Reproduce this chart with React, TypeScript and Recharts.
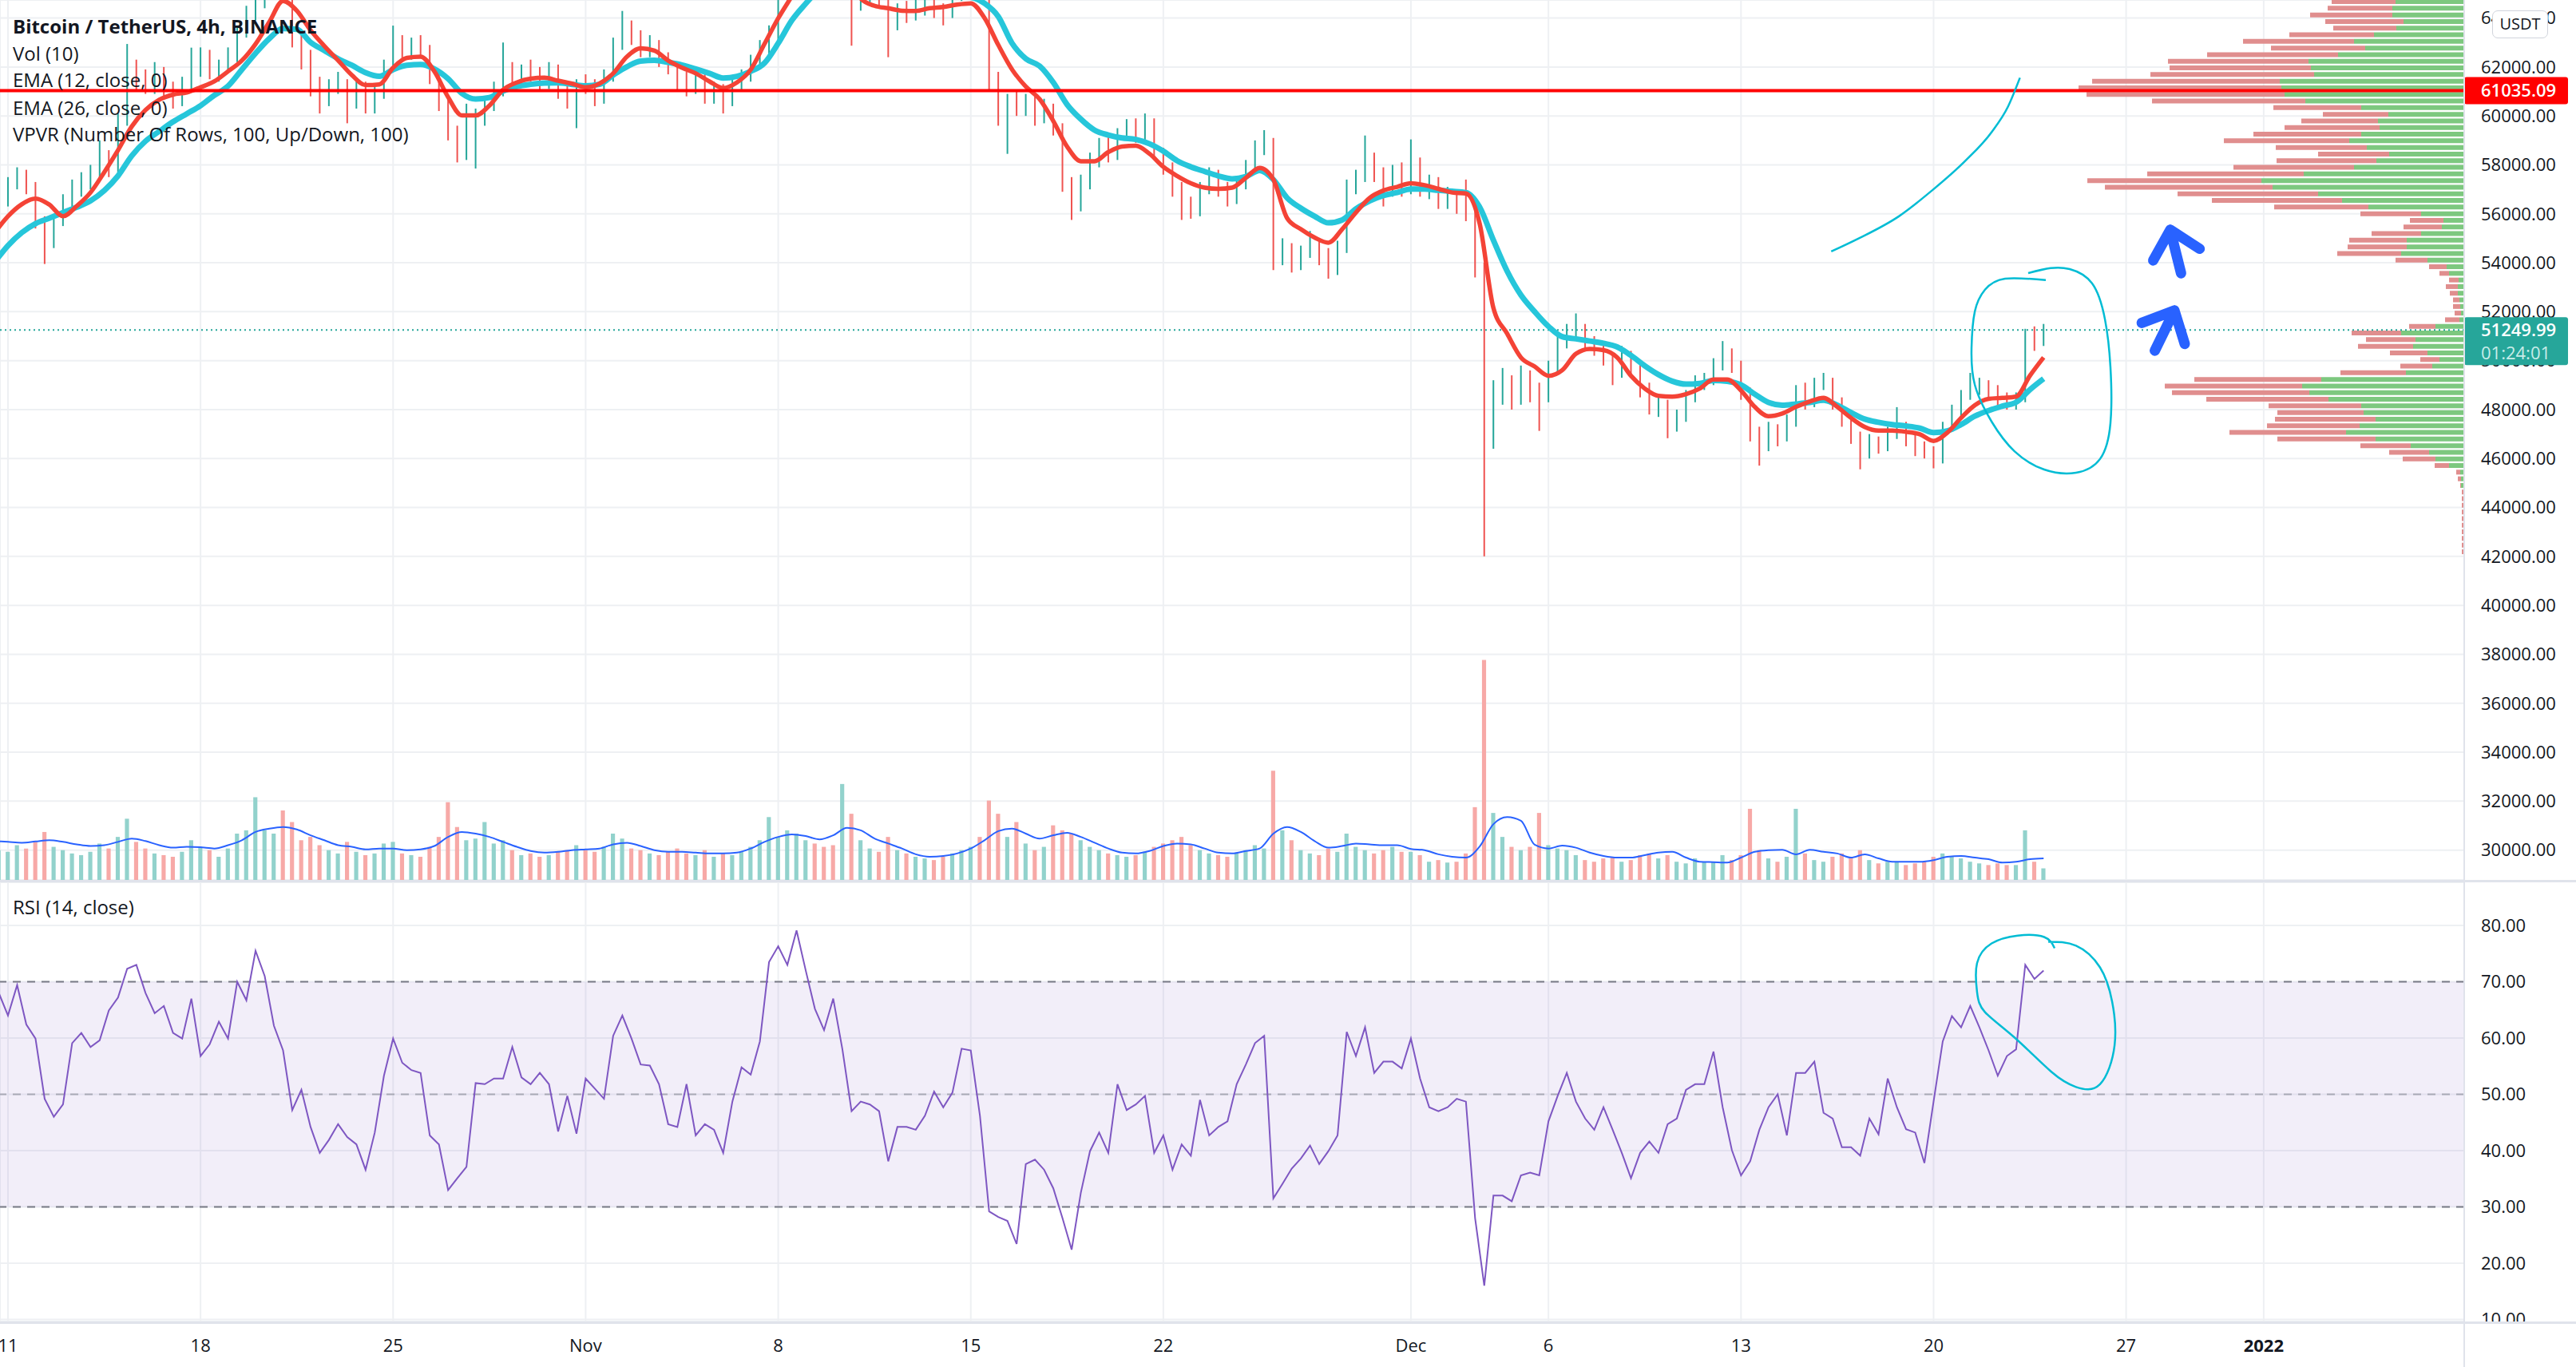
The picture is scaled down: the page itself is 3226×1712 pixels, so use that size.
import React from 'react';
import {
  ComposedChart,
  Bar,
  Line,
  Scatter,
  XAxis,
  YAxis,
  CartesianGrid,
  ReferenceLine,
  ReferenceArea,
  Cell,
} from 'recharts';

const FONT = '"Open Sans", "Noto Sans", sans-serif';
const TEXT = '#131722';
const UP = '#26a69a';
const DOWN = '#ef5350';
const VOL_UP = '#92d2cc';
const VOL_DOWN = '#f7a9a7';
const GRID = '#eef0f3';
const PEN = '#00bcd4';

const W = 3226;
const H = 1712;
const AXIS_W = 140;
const PLOT_W = W - AXIS_W;
const PRICE_H = 1102;
const RSI_TOP = 1105;
const RSI_PLOT_H = 550;
const DATE_H = H - RSI_TOP - RSI_PLOT_H;

// days counted from Oct 11 00:00
const X_DOMAIN = [-0.29, 89.29];
const PRICE_DOMAIN = [28781, 64737];
const RSI_DOMAIN = [9.64, 87.66];

// 8h candles, first one opens Oct 10 16:00
const CANDLE_START = -1 / 3;
const CANDLE_STEP = 1 / 3;

// [open, high, low, close]
const candles: [number, number, number, number][] = [
  [56200, 57100, 55900, 56600],
  [56600, 57500, 56300, 57300], [57300, 57900, 57000, 57600], [57600, 57800, 56800, 57100],
  [57100, 57300, 55400, 55600], [55600, 55900, 53950, 54900], [54900, 56000, 54600, 55700],
  [55700, 56800, 55500, 56500], [56500, 57400, 56200, 57000], [57000, 57700, 56700, 57300],
  [57300, 58000, 57000, 57600], [57600, 59000, 57400, 58300], [58300, 58600, 57500, 57900],
  [57900, 60100, 57700, 59800], [59800, 62940, 59600, 61900], [61900, 62300, 61000, 61500],
  [61500, 61900, 60900, 61200], [61200, 62200, 60900, 61800], [61800, 62000, 60800, 61100],
  [61100, 61400, 60300, 60700], [60700, 61600, 60400, 61300], [61300, 62790, 61100, 61900],
  [61900, 62800, 61600, 62300], [62300, 62700, 61500, 61800], [61800, 62300, 61400, 62000],
  [62000, 62800, 61800, 62400], [62400, 63700, 62200, 63400], [63400, 64500, 63200, 64200],
  [64200, 65000, 63900, 64600], [64600, 66200, 64400, 65800], [65800, 67000, 65500, 66200],
  [66200, 66600, 65400, 65900], [65900, 66100, 62800, 63000], [63000, 63500, 61900, 62400],
  [62400, 62700, 60800, 61200], [61200, 61600, 60100, 60700], [60700, 61500, 60400, 61100],
  [61100, 61800, 60900, 61300], [61300, 61500, 59700, 60600], [60600, 61500, 60300, 61200],
  [61200, 61400, 60100, 60400], [60400, 61200, 60100, 60900], [60900, 62300, 60700, 62000],
  [62000, 63690, 61800, 62900], [62900, 63300, 62200, 62500], [62500, 63200, 62300, 62900],
  [62900, 63300, 62400, 62700], [62700, 62900, 61300, 61600], [61600, 61800, 60200, 60500],
  [60500, 60800, 59000, 59300], [59300, 59600, 58100, 58400], [58400, 60500, 58200, 59800],
  [59800, 60300, 57850, 59900], [59900, 60800, 59600, 60500], [60500, 61400, 60200, 61000],
  [61000, 63000, 60800, 61900], [61900, 62200, 61200, 61500], [61500, 62100, 61300, 61800],
  [61800, 62300, 61400, 61700], [61700, 62000, 61000, 61300], [61300, 62200, 61100, 61900],
  [61900, 62100, 60700, 61000], [61000, 61300, 60300, 60600], [60600, 61500, 59500, 61300],
  [61300, 61700, 60900, 61200], [61200, 61500, 60400, 60700], [60700, 61900, 60500, 61600],
  [61600, 63200, 61400, 62900], [62900, 64290, 62700, 63600], [63600, 63900, 62900, 63200],
  [63200, 63500, 62400, 62700], [62700, 63300, 62400, 62900], [62900, 63100, 62000, 62300],
  [62300, 62600, 61700, 62000], [62000, 62200, 61000, 61400], [61400, 61800, 60800, 61200],
  [61200, 61900, 60900, 61500], [61500, 61700, 60500, 60800], [60800, 61400, 60500, 61100],
  [61100, 61300, 60100, 60600], [60600, 61600, 60400, 61300], [61300, 61900, 61000, 61600],
  [61600, 62500, 61400, 62200], [62200, 63100, 62000, 62800], [62800, 63700, 62500, 63300],
  [63300, 65000, 63100, 64700], [64700, 66600, 64500, 66300], [66300, 67800, 66000, 67500],
  [67500, 68200, 67100, 67800], [67800, 68500, 66800, 67100], [67100, 67500, 66500, 66900],
  [66900, 67300, 66300, 66800], [66800, 69000, 66600, 67200], [67200, 67600, 62870, 64800],
  [64800, 65300, 64300, 64900], [64900, 65600, 64600, 65200], [65200, 65500, 64400, 64800],
  [64800, 65000, 62400, 63800], [63800, 64600, 63500, 64300], [64300, 64700, 63800, 64100],
  [64100, 64800, 63900, 64400], [64400, 65000, 64100, 64600], [64600, 64900, 64000, 64300],
  [64300, 64600, 63700, 64200], [64200, 65200, 64000, 64900], [64900, 65700, 64700, 65300],
  [65300, 66400, 65100, 65700], [65700, 66000, 64600, 64900], [64900, 65100, 61000, 61500],
  [61500, 61800, 59600, 59900], [59900, 60900, 58450, 60600], [60600, 61000, 60000, 60300],
  [60300, 60900, 60000, 60500], [60500, 60800, 59600, 60000], [60000, 60700, 59700, 60200],
  [60200, 60500, 59200, 59500], [59500, 59700, 56900, 57200], [57200, 57500, 55750, 56400],
  [56400, 57600, 56100, 57300], [57300, 58500, 57000, 58200], [58200, 59100, 57900, 58900],
  [58900, 59300, 58100, 58400], [58400, 59500, 58200, 59300], [59300, 59870, 59000, 59600],
  [59600, 59900, 58900, 59200], [59200, 60100, 59000, 59700], [59700, 59900, 58300, 58500],
  [58500, 58700, 57600, 57900], [57900, 58100, 56700, 57000], [57000, 57300, 55750, 56500],
  [56500, 56700, 55800, 56100], [56100, 57300, 55900, 57000], [57000, 57900, 56800, 57600],
  [57600, 57800, 56700, 57000], [57000, 57300, 56300, 56600], [56600, 57500, 56400, 57200],
  [57200, 58200, 57000, 57900], [57900, 59000, 57700, 58700], [58700, 59420, 58400, 58900],
  [58900, 59100, 53700, 54200], [54200, 55000, 53900, 54500], [54500, 54800, 53600, 53900],
  [53900, 54700, 53700, 54400], [54400, 55300, 54200, 54800], [54800, 55000, 53900, 54300],
  [54300, 54600, 53350, 53700], [53700, 54900, 53500, 54600], [54600, 57400, 54400, 57100],
  [57100, 57800, 56800, 57500], [57500, 59200, 57300, 58300], [58300, 58500, 57300, 57600],
  [57600, 57900, 56300, 56900], [56900, 58000, 56700, 57700], [57700, 58100, 56700, 57000],
  [57000, 59040, 56800, 58000], [58000, 58300, 56700, 57000], [57000, 57600, 56600, 57300],
  [57300, 57500, 56200, 56500], [56500, 57100, 56200, 56800], [56800, 57000, 56000, 56400],
  [56400, 57400, 55700, 56000], [56000, 56300, 53400, 53800], [53800, 54000, 42000, 46700],
  [46700, 49200, 46400, 48900], [48900, 49700, 48200, 49200], [49200, 49400, 48000, 48500],
  [48500, 49800, 48200, 49400], [49400, 49600, 48300, 48700], [48700, 49100, 47130, 48600],
  [48600, 50000, 48300, 49700], [49700, 51100, 49500, 50800], [50800, 51500, 50500, 51200],
  [51200, 51930, 50900, 51300], [51300, 51500, 50400, 50700], [50700, 51000, 50200, 50600],
  [50600, 50800, 49800, 50100], [50100, 50300, 49000, 49500], [49500, 50600, 49300, 50200],
  [50200, 50400, 49300, 49600], [49600, 49900, 48500, 48800], [48800, 49100, 47800, 48000],
  [48000, 48600, 47700, 48200], [48200, 48400, 46830, 47400], [47400, 48000, 47100, 47700],
  [47700, 48800, 47500, 48500], [48500, 49400, 48300, 49100], [49100, 49500, 48800, 49200],
  [49200, 50100, 49000, 49800], [49800, 50800, 49600, 50300], [50300, 50500, 49500, 49800],
  [49800, 50000, 48400, 48700], [48700, 48900, 46700, 47000], [47000, 47300, 45710, 46600],
  [46600, 47500, 46300, 47200], [47200, 47400, 46500, 46900], [46900, 47800, 46700, 47500],
  [47500, 49000, 47300, 48700], [48700, 49100, 48000, 48300], [48300, 49300, 48100, 49000],
  [49000, 49500, 48800, 49200], [49200, 49300, 48000, 48300], [48300, 48500, 47300, 47600],
  [47600, 47800, 46600, 46900], [46900, 47100, 45560, 46200], [46200, 47000, 46000, 46700],
  [46700, 46900, 46200, 46500], [46500, 47300, 46300, 47000], [47000, 48100, 46800, 47300],
  [47300, 47500, 46500, 46800], [46800, 47000, 46100, 46400], [46400, 46700, 46000, 46300],
  [46300, 46500, 45600, 46000], [46000, 47500, 45800, 47300], [47300, 48200, 47100, 47900],
  [47900, 48800, 47700, 48600], [48600, 49500, 48400, 48900], [48900, 49300, 48600, 49000],
  [49000, 49200, 48500, 48800], [48800, 49000, 48100, 48400], [48400, 48700, 48000, 48200],
  [48200, 48700, 48000, 48400], [48400, 51300, 48300, 51000], [51000, 51400, 50400, 50900],
  [50900, 51500, 50600, 51250],
];

const volumes = [
  7200,
  6800, 8400, 7600, 9200, 11600, 8000, 7200, 6400, 6000, 6800, 8800, 7600,
  10400, 14800, 9200, 7600, 6400, 6000, 5600, 6800, 9600, 8000, 7200, 5600,
  7600, 11200, 12000, 20000, 12000, 11200, 16800, 14000, 9600, 10400, 8400, 7200,
  6400, 9200, 6800, 6000, 6400, 8800, 9200, 6400, 6000, 5600, 8000, 10400,
  18800, 12800, 9600, 10000, 14000, 8800, 9600, 7200, 6000, 6400, 5600, 6000,
  6800, 7200, 8400, 7200, 6800, 8000, 11200, 10000, 7600, 7200, 6400, 6000,
  6800, 7600, 6400, 6000, 7200, 5600, 6400, 6000, 6800, 8000, 9600, 15200,
  10400, 12000, 11200, 9600, 8800, 8000, 8400, 23200, 16000, 9600, 7600, 6800,
  10400, 7200, 6400, 5600, 5200, 4800, 5600, 6400, 7200, 8000, 10400, 19200,
  16000, 10400, 14000, 8800, 7200, 8000, 13200, 12000, 11200, 9600, 8000, 7200,
  6400, 6000, 5600, 6000, 6800, 8000, 8800, 9600, 10400, 8400, 7200, 6400,
  6000, 5600, 6400, 7200, 8400, 7600, 26400, 12000, 9600, 7200, 6400, 6000,
  7600, 6800, 11200, 8000, 7200, 6400, 7200, 8000, 6800, 6800, 6000, 4400,
  4800, 4200, 4400, 6400, 17600, 53200, 16200, 10400, 8000, 7200, 8000, 16200,
  8400, 7600, 7200, 6000, 4800, 4400, 5200, 5600, 4400, 4800, 6000, 6400,
  5200, 6000, 4400, 4000, 5200, 4400, 4400, 6000, 4800, 6000, 17200, 7200,
  5200, 4400, 5600, 17200, 6400, 4800, 4400, 5600, 6400, 5200, 7200, 4800,
  4000, 4400, 4400, 3600, 4000, 4400, 5600, 6400, 5600, 5200, 4400, 4000,
  3600, 4000, 3600, 3600, 12000, 4400, 2800,
];

const rsiValues = [
  68,
  64, 69.4, 62.4, 59.9, 49.2, 46, 48.2, 59.1, 60.9, 58.4, 59.6, 64.9,
  67.2, 72.3, 73, 68, 64.4, 65.7, 60.9, 59.9, 67, 56.8, 58.9, 62.9,
  59.9, 70, 66.7, 75.5, 71, 62.2, 57.8, 47.2, 50.8, 44.2, 39.6, 41.9,
  44.7, 42.4, 41.1, 36.6, 43.2, 53.3, 59.9, 55.6, 54.3, 53.8, 42.7, 41.1,
  33, 35.1, 37.1, 52, 51.8, 52.8, 52.8, 58.4, 53, 51.8, 53.8, 51.8,
  43.4, 49.7, 43, 52.8, 51, 49.2, 60.4, 64, 59.9, 55.3, 55.1, 51.8,
  44.7, 44.2, 51.8, 42.7, 44.7, 43.7, 39.6, 48.7, 54.8, 53.5, 59.4, 73.5,
  76.3, 73, 79.1, 72, 65.2, 61.4, 67, 58, 47, 48.7, 48.2, 47,
  38.1, 44.2, 44.2, 43.7, 46.2, 50.5, 47.7, 50.3, 58.1, 57.8, 46.2, 29.2,
  28.2, 27.5, 23.4, 37.6, 38.4, 36.6, 33.3, 28, 22.4, 32.5, 39.9, 43.2,
  39.6, 51.8, 47.2, 48.2, 49.7, 39.6, 42.7, 36.6, 41.1, 39.1, 49, 42.7,
  44.2, 45.2, 51.8, 55.3, 59.1, 60.4, 31.5, 34.1, 36.8, 38.6, 40.9, 37.6,
  39.9, 42.7, 61.1, 56.8, 61.9, 53.8, 55.8, 55.8, 54.6, 59.9, 52.8, 47.7,
  47, 47.7, 49.2, 48.7, 28, 16, 32, 32, 31, 35.6, 36.1, 35.6,
  45.2, 49.7, 53.8, 48.7, 45.7, 43.7, 47.7, 43.7, 39.6, 35.1, 39.6, 41.6,
  39.6, 44.7, 45.7, 50.8, 51.8, 51.8, 57.6, 47.7, 40.1, 35.6, 38.1, 43.7,
  47.7, 50, 42.7, 53.8, 53.8, 55.8, 46.7, 45.7, 40.6, 40.6, 39.1, 45.7,
  42.9, 52.8, 47.7, 43.8, 43.2, 37.8, 48.7, 59.4, 63.9, 61.9, 65.7, 61.9,
  57.8, 53.3, 56.8, 58, 73, 70.5, 72,
];

// EMA and volume MA readings every 12h, first one Oct 10 12:00
const LINE_START = -0.5;
const LINE_STEP = 0.5;

const ema12 = [
  55200, 55900, 56390, 56620, 56380, 55900, 56320, 56870, 57700, 58600,
  59570, 60240, 60660, 60870, 60960, 61170, 61410, 61820, 62260, 62940,
  63840, 64700, 64300, 63500, 62860, 62270, 61670, 61260, 61290, 61970,
  62370, 62420, 61820, 60770, 60020, 60020, 60420, 61070, 61370, 61520,
  61560, 61440, 61320, 61170, 61320, 61740, 62420, 62760, 62670, 62260,
  61970, 61740, 61410, 61140, 61370, 61890, 62940, 63990, 64900, 65800,
  66500, 66800, 66400, 64800, 64500, 64400, 64300, 64290, 64400, 64450,
  64550, 64600, 64000, 62900, 61900, 61200, 60690, 59790, 58750, 58150,
  58150, 58520, 58750, 58780, 58450, 57920, 57550, 57250, 57070, 57020,
  57070, 57470, 57880, 57400, 55820, 55370, 55030, 54820, 55370, 56050,
  56650, 56950, 57100, 57250, 57170, 57020, 56870, 56830, 55600, 52150,
  51100, 50130, 49760, 49380, 49610, 50280, 50480, 50430, 50130, 49380,
  48860, 48560, 48530, 48630, 48860, 49230, 49230, 48780, 48110, 47730,
  47840, 48110, 48330, 48480, 48110, 47660, 47290, 47140, 47140, 47090,
  46990, 46720, 47060, 47660, 48180, 48440, 48480, 48530, 49380, 50130,
];

const ema26 = [
  54000, 54700, 55230, 55600, 55820, 56050, 56270, 56530, 56950, 57550,
  58370, 58970, 59370, 59760, 60090, 60420, 60840, 61220, 61890, 62560,
  63160, 63570, 63540, 63010, 62670, 62340, 62070, 61770, 61620, 61890,
  62070, 62100, 61920, 61520, 60920, 60690, 60750, 61020, 61200, 61290,
  61340, 61350, 61290, 61230, 61290, 61670, 62010, 62240, 62270, 62190,
  62080, 61920, 61740, 61550, 61620, 61820, 62160, 62970, 63910, 64590,
  65200, 65700, 65800, 65600, 65300, 65100, 64950, 64900, 64880, 64880,
  64900, 64850, 64600, 64060, 62970, 62340, 62040, 61370, 60470, 59870,
  59420, 59220, 59100, 59040, 58860, 58560, 58170, 57920, 57730, 57550,
  57430, 57520, 57770, 57400, 56650, 56230, 55900, 55630, 55750, 56200,
  56530, 56750, 56870, 57010, 57010, 56960, 56920, 56870, 56270, 54920,
  53650, 52680, 52000, 51400, 50980, 50890, 50800, 50710, 50560, 50210,
  49790, 49430, 49160, 49040, 49070, 49190, 49160, 49010, 48630, 48290,
  48180, 48230, 48290, 48380, 48180, 47880, 47610, 47480, 47390, 47330,
  47240, 47060, 47130, 47390, 47730, 47960, 48140, 48300, 48810, 49260,
];

const volMa = [
  9400, 9200, 9000, 9300, 9600, 9200, 8600, 8200, 8400, 9200,
  10000, 9400, 8400, 7800, 8000, 7900, 7600, 8400, 9600, 11600,
  12400, 12800, 12200, 10800, 9600, 8400, 8000, 7400, 7600, 7600,
  7200, 7400, 8200, 10400, 11600, 11200, 10400, 9200, 8000, 7000,
  6600, 6800, 7200, 7400, 7600, 8600, 9000, 8200, 7200, 6800,
  6800, 6600, 6400, 6400, 6600, 7600, 9200, 10400, 11000, 10600,
  9800, 10800, 12600, 12000, 10000, 8800, 7600, 6200, 5600, 5800,
  6400, 7600, 9600, 11800, 12400, 11200, 10000, 10800, 11400, 10400,
  9000, 7600, 6600, 6400, 7000, 8200, 8800, 8600, 7600, 6600,
  6400, 7000, 7600, 11200, 12800, 11600, 9400, 7800, 8200, 8800,
  8600, 8400, 8400, 7500, 7200, 6200, 5600, 5400, 8100, 13500,
  15200, 14300, 8500, 7600, 8300, 7800, 6600, 5800, 5400, 5400,
  6000, 6600, 6800, 5400, 4400, 4300, 4200, 5400, 6800, 7200,
  7300, 6200, 7300, 6800, 6400, 5400, 6200, 5200, 4400, 4400,
  4400, 4800, 5600, 5800, 5400, 5000, 4200, 4400, 5000, 5200,
];

// VPVR (100 rows, up/down); rows listed from the top visible row downward
const VP_TOP = 64665;
const VP_STEP = 270.8;
const VP_SHARE = 0.1565;
const vpUp = [
  86, 90, 90, 76, 85, 113, 138, 124, 158, 195,
  192, 188, 231, 229, 225, 199, 129, 95, 108, 106,
  129, 144, 122, 94, 110, 138, 201, 254, 240, 183,
  153, 120, 54, 26, 28, 54, 72, 72, 79, 46,
  22, 19, 7, 8, 8, 6, 5, 4, 6, 36,
  79, 61, 64, 46, 31, 40, 73, 179, 203, 194,
  170, 129, 126, 111, 131, 148, 111, 67, 44, 36,
  19, 5, 4, 4, 1, 1, 1, 1, 1, 1,
  1, 1, 1, 1,
];
const vpDown = [
  80, 81, 103, 98, 79, 106, 139, 118, 164, 176,
  177, 205, 235, 254, 248, 192, 110, 82, 96, 119,
  135, 157, 114, 89, 125, 151, 196, 218, 210, 176,
  163, 118, 76, 42, 48, 62, 72, 74, 80, 40,
  22, 12, 12, 15, 10, 8, 9, 8, 18, 33,
  62, 62, 69, 47, 24, 40, 82, 159, 172, 172,
  153, 116, 108, 126, 116, 146, 123, 63, 50, 41,
  18, 5, 4, 1, 2, 2, 2, 2, 2, 2,
  2, 2, 2, 2,
];

const priceTicks = [
  30000, 32000, 34000, 36000, 38000, 40000, 42000, 44000, 46000,
  48000, 50000, 52000, 54000, 56000, 58000, 60000, 62000, 64000,
];
const rsiTicks = [10, 20, 30, 40, 50, 60, 70, 80];
const dateTicks = [0, 7, 14, 21, 28, 35, 42, 51, 56, 63, 70, 77, 82];
const dateLabels = ['11', '18', '25', 'Nov', '8', '15', '22', 'Dec', '6', '13', '20', '27', '2022'];

const LEVEL = 61035.09;
const LAST_PRICE = 51249.99;
const COUNTDOWN = '01:24:01';

// hand drawn marks, in (day, price) / (day, rsi)
const trendCurve = [
  { t: 66.28, p: 54460 }, { t: 67.29, p: 55000 }, { t: 68.74, p: 55900 }, { t: 69.94, p: 56950 },
  { t: 71.14, p: 58150 }, { t: 72.11, p: 59340 }, { t: 72.71, p: 60390 }, { t: 73.14, p: 61560 },
];
const priceCircle = [
  { t: 74.08, p: 53290 }, { t: 72.6, p: 53350 }, { t: 71.87, p: 52900 }, { t: 71.5, p: 52010 },
  { t: 71.38, p: 50510 }, { t: 71.5, p: 49010 }, { t: 72.11, p: 47510 }, { t: 72.94, p: 46300 },
  { t: 74.02, p: 45550 }, { t: 75.18, p: 45420 }, { t: 76.05, p: 45980 }, { t: 76.43, p: 47450 },
  { t: 76.43, p: 49730 }, { t: 76.23, p: 51690 }, { t: 75.76, p: 53160 }, { t: 74.95, p: 53740 },
  { t: 74.25, p: 53780 }, { t: 73.44, p: 53580 },
];
const rsiCircle = [
  { t: 74.4, v: 75.96 }, { t: 74.02, v: 77.94 }, { t: 73.06, v: 78.2 }, { t: 72.11, v: 76.8 },
  { t: 71.58, v: 73.3 }, { t: 71.58, v: 68.2 }, { t: 71.87, v: 64.6 }, { t: 72.94, v: 60.1 },
  { t: 74.28, v: 54 }, { t: 75.18, v: 51.3 }, { t: 76.05, v: 51.8 }, { t: 76.58, v: 58.7 },
  { t: 76.49, v: 66.5 }, { t: 76.05, v: 72.55 }, { t: 75.18, v: 76.4 }, { t: 74.17, v: 77.1 },
];
const arrows = [
  { t: 78.8, p: 54460, angle: -14 },
  { t: 78.4, p: 51230, angle: 26 },
];

const rows = candles.map(([o, h, l, c], i) => ({
  t: CANDLE_START + i * CANDLE_STEP,
  o,
  h,
  l,
  c,
  range: [l, h],
  vol: volumes[i],
  rsi: rsiValues[i],
}));

const lineRows = ema12.map((v, i) => ({
  t: LINE_START + i * LINE_STEP,
  ema12: v,
  ema26: ema26[i],
  volMa: volMa[i],
}));

const vpRows = vpUp.map((u, i) => ({ p: VP_TOP - i * VP_STEP, up: u, down: vpDown[i] }));
const vpMax = Math.max(...vpRows.map((r) => r.up + r.down));

const Candle = (props: any) => {
  const { x, y, width, height, payload } = props;
  if (!payload) return null;
  const { o, h, l, c } = payload;
  const span = h - l || 1;
  const py = (v: number) => y + ((h - v) / span) * height;
  const color = c >= o ? UP : DOWN;
  const cx = x + width / 2;
  const top = py(Math.max(o, c));
  const bottom = py(Math.min(o, c));
  return (
    <g>
      <line x1={cx} x2={cx} y1={y} y2={y + height} stroke={color} strokeWidth={2} />
      <rect x={x} y={top} width={width} height={Math.max(bottom - top, 1.5)} fill={color} />
    </g>
  );
};

const Arrow = (props: any) => {
  const { cx, cy, payload } = props;
  if (cx == null || cy == null) return null;
  return (
    <g transform={`translate(${cx},${cy}) rotate(${payload.angle})`}>
      <path
        d="M0,28 L0,-28 M-30,4 L0,-28 L30,4"
        stroke="#2962ff"
        strokeWidth={13}
        strokeLinecap="round"
        strokeLinejoin="round"
        fill="none"
      />
    </g>
  );
};

const LevelBadge = (props: any) => {
  const vb = props.viewBox;
  if (!vb) return null;
  const x = vb.x + vb.width;
  return (
    <g>
      <rect x={x} y={vb.y - 17} width={130} height={34} rx={3} fill="#ff0000" />
      <text x={x + 21} y={vb.y} dy="0.355em" fontSize={22} fontFamily={FONT} fontWeight={600} fill="#ffffff">
        {LEVEL.toFixed(2)}
      </text>
    </g>
  );
};

const LastPriceBadge = (props: any) => {
  const vb = props.viewBox;
  if (!vb) return null;
  const x = vb.x + vb.width;
  return (
    <g>
      <rect x={x} y={vb.y - 16} width={130} height={60} rx={3} fill={UP} />
      <text x={x + 21} y={vb.y} dy="0.355em" fontSize={22} fontFamily={FONT} fontWeight={600} fill="#ffffff">
        {LAST_PRICE.toFixed(2)}
      </text>
      <text x={x + 21} y={vb.y + 29} dy="0.355em" fontSize={22} fontFamily={FONT} fill="#c9ece8">
        {COUNTDOWN}
      </text>
    </g>
  );
};

const DateTick = (props: any) => {
  const { x, y, payload } = props;
  const label = dateLabels[dateTicks.indexOf(payload.value)];
  return (
    <text
      x={x}
      y={y}
      dy="0.71em"
      textAnchor="middle"
      fontSize={22}
      fontFamily={FONT}
      fill={TEXT}
      fontWeight={label === '2022' ? 700 : 400}
    >
      {label}
    </text>
  );
};

const axisTick = { fontSize: 22, fill: TEXT, fontFamily: FONT };
const noMargin = { top: 0, right: 0, bottom: 0, left: 0 };
const layer = (top: number): React.CSSProperties => ({ position: 'absolute', left: 0, top });
const legendLine = (top: number, bold = false): React.CSSProperties => ({
  position: 'absolute',
  left: 16,
  top,
  fontSize: 24,
  lineHeight: '28px',
  color: TEXT,
  fontWeight: bold ? 700 : 400,
  whiteSpace: 'nowrap',
});

const App: React.FC = () => {
  return (
    <div
      style={{
        position: 'absolute',
        left: 0,
        top: 0,
        width: W,
        height: H,
        background: '#ffffff',
        overflow: 'hidden',
        fontFamily: FONT,
      }}
    >
      {/* grid, price scale and volume */}
      <div style={layer(0)}>
        <ComposedChart width={W} height={PRICE_H} data={rows} margin={noMargin}>
          <CartesianGrid stroke={GRID} strokeWidth={2} />
          <XAxis dataKey="t" type="number" domain={X_DOMAIN} allowDataOverflow ticks={dateTicks} hide />
          <YAxis
            orientation="right"
            type="number"
            domain={PRICE_DOMAIN}
            allowDataOverflow
            ticks={priceTicks}
            interval={0}
            width={AXIS_W}
            axisLine={false}
            tickLine={false}
            tickSize={0}
            tickMargin={21}
            tick={axisTick}
            tickFormatter={(v: number) => v.toFixed(2)}
          />
          <YAxis yAxisId="vol" hide domain={[0, (m: number) => m * 4]} />
          <Bar yAxisId="vol" dataKey="vol" barSize={10} isAnimationActive={false}>
            {rows.map((r, i) => (
              <Cell key={i} fill={r.c >= r.o ? VOL_UP : VOL_DOWN} />
            ))}
          </Bar>
          <Line
            yAxisId="vol"
            data={lineRows}
            dataKey="volMa"
            stroke="#2962ff"
            strokeWidth={2}
            dot={false}
            type="monotone"
            isAnimationActive={false}
          />
        </ComposedChart>
      </div>

      {/* VPVR */}
      <div style={layer(0)}>
        <ComposedChart layout="vertical" width={PLOT_W} height={PRICE_H} data={vpRows} margin={noMargin}>
          <XAxis type="number" domain={[0, vpMax / VP_SHARE]} reversed hide />
          <YAxis type="number" dataKey="p" domain={PRICE_DOMAIN} allowDataOverflow reversed hide />
          <Bar dataKey="up" stackId="vp" fill="#7dc87f" barSize={6} isAnimationActive={false} />
          <Bar dataKey="down" stackId="vp" fill="#e08e8e" barSize={6} isAnimationActive={false} />
        </ComposedChart>
      </div>

      {/* candles, EMAs, drawings */}
      <div style={layer(0)}>
        <ComposedChart width={W} height={PRICE_H} data={rows} margin={{ top: 0, right: AXIS_W, bottom: 0, left: 0 }}>
          <XAxis dataKey="t" type="number" domain={X_DOMAIN} allowDataOverflow hide />
          <YAxis type="number" domain={PRICE_DOMAIN} allowDataOverflow hide />
          <ReferenceLine y={LAST_PRICE} stroke={UP} strokeDasharray="2 4" strokeWidth={2} label={<LastPriceBadge />} />
          <Bar dataKey="range" barSize={9} shape={(p: any) => <Candle {...p} />} isAnimationActive={false} />
          <Line
            data={lineRows}
            dataKey="ema26"
            stroke="#26c6da"
            strokeWidth={7}
            dot={false}
            type="monotone"
            isAnimationActive={false}
          />
          <Line
            data={lineRows}
            dataKey="ema12"
            stroke="#f44336"
            strokeWidth={5.5}
            dot={false}
            type="monotone"
            isAnimationActive={false}
          />
          <ReferenceLine y={LEVEL} stroke="#ff0000" strokeWidth={4} label={<LevelBadge />} />
          <Line data={trendCurve} dataKey="p" stroke={PEN} strokeWidth={2.5} dot={false} type="monotone" isAnimationActive={false} />
          <Line data={priceCircle} dataKey="p" stroke={PEN} strokeWidth={2.5} dot={false} type="natural" isAnimationActive={false} />
          <Scatter data={arrows} dataKey="p" shape={(p: any) => <Arrow {...p} />} isAnimationActive={false} />
        </ComposedChart>
      </div>

      {/* RSI pane with the date scale */}
      <div style={layer(RSI_TOP)}>
        <ComposedChart width={W} height={RSI_PLOT_H + DATE_H} data={rows} margin={noMargin}>
          <CartesianGrid stroke={GRID} strokeWidth={2} />
          <XAxis
            dataKey="t"
            type="number"
            domain={X_DOMAIN}
            allowDataOverflow
            ticks={dateTicks}
            interval={0}
            height={DATE_H}
            axisLine={false}
            tickLine={false}
            tickSize={0}
            tickMargin={22}
            tick={(p: any) => <DateTick {...p} />}
          />
          <YAxis
            orientation="right"
            type="number"
            domain={RSI_DOMAIN}
            allowDataOverflow
            ticks={rsiTicks}
            interval={0}
            width={AXIS_W}
            axisLine={false}
            tickLine={false}
            tickSize={0}
            tickMargin={21}
            tick={axisTick}
            tickFormatter={(v: number) => v.toFixed(2)}
          />
          <ReferenceArea y1={30} y2={70} fill="#7e57c2" fillOpacity={0.1} stroke="none" />
          <ReferenceLine y={70} stroke="#787b86" strokeDasharray="10 8" strokeWidth={2} />
          <ReferenceLine y={50} stroke="#787b86" strokeOpacity={0.55} strokeDasharray="10 8" strokeWidth={2} />
          <ReferenceLine y={30} stroke="#787b86" strokeDasharray="10 8" strokeWidth={2} />
          <Line dataKey="rsi" stroke="#7e57c2" strokeWidth={2} dot={false} type="linear" isAnimationActive={false} />
          <Line data={rsiCircle} dataKey="v" stroke={PEN} strokeWidth={2.5} dot={false} type="natural" isAnimationActive={false} />
        </ComposedChart>
      </div>

      {/* pane separators and scale border */}
      <div style={{ position: 'absolute', left: 0, top: PRICE_H, width: W, height: 3, background: '#e0e3eb' }} />
      <div style={{ position: 'absolute', left: PLOT_W + 1, top: RSI_TOP + RSI_PLOT_H + 3, width: AXIS_W, height: DATE_H, background: '#ffffff' }} />
      <div style={{ position: 'absolute', left: 0, top: RSI_TOP + RSI_PLOT_H, width: W, height: 3, background: '#e0e3eb' }} />
      <div style={{ position: 'absolute', left: PLOT_W - 1, top: 0, width: 2, height: H, background: '#e0e3eb' }} />

      {/* legends */}
      <div style={legendLine(19, true)}>Bitcoin / TetherUS, 4h, BINANCE</div>
      <div style={legendLine(53)}>Vol (10)</div>
      <div style={legendLine(86)}>EMA (12, close, 0)</div>
      <div style={legendLine(121)}>EMA (26, close, 0)</div>
      <div style={legendLine(154)}>VPVR (Number Of Rows, 100, Up/Down, 100)</div>
      <div style={legendLine(1122)}>RSI (14, close)</div>

      <div
        style={{
          position: 'absolute',
          left: 3121,
          top: 13,
          width: 70,
          height: 35,
          boxSizing: 'border-box',
          border: '1.5px solid #d1d4dc',
          borderRadius: 7,
          background: '#ffffff',
          fontSize: 20,
          lineHeight: '32px',
          textAlign: 'center',
          color: TEXT,
        }}
      >
        USDT
      </div>
    </div>
  );
};

export default App;
